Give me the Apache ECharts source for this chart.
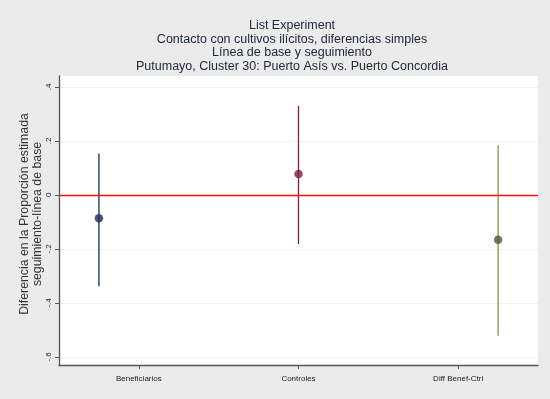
<!DOCTYPE html>
<html><head><meta charset="utf-8">
<script src="https://cdn.jsdelivr.net/npm/echarts@6/dist/echarts.min.js"></script>
<style>html,body{margin:0;padding:0;background:#ebebeb;}#c{width:550px;height:399px;}</style>
</head><body><div id="c"></div>
<script>
var categories = ['Beneficiarios', 'Controles', 'Diff Benef-Ctrl'];
var pointPos = [1, 2, 3];
var labelPos = [1.2, 2, 2.8];
var estimates = [-0.087, 0.077, -0.166];
var ciLow = [-0.338, -0.182, -0.522];
var ciHigh = [0.153, 0.329, 0.184];
var yTicks = [-0.6, -0.4, -0.2, 0, 0.2, 0.4];
var yTitle = 'Diferencia en la Proporción estimada\nseguimiento-línea de base';
var lineColors = ['#1c2f58', '#80233f', '#8a9052'];
var dotColors = ['#1a2d5a', '#7a1f3c', '#53572f'];

function stataFmt(v) {
  var r = Math.round(v * 10) / 10;
  if (r === 0) return '0';
  var s = Math.abs(r).toString().replace(/^0/, '');
  return (r < 0 ? '-' : '') + s;
}

var series = [];
categories.forEach(function (c, i) {
  series.push({
    type: 'line', name: c + ' CI', data: [[pointPos[i], ciLow[i]], [pointPos[i], ciHigh[i]]],
    symbol: 'none', lineStyle: { color: lineColors[i], width: 1.3 }, silent: true, z: 3
  });
});
series.push({
  type: 'line', name: 'zero', data: [],
  markLine: { silent: true, symbol: 'none', label: { show: false },
    lineStyle: { color: '#ff1010', width: 1.3, type: 'solid' }, data: [{ yAxis: 0 }] },
  z: 4
});
categories.forEach(function (c, i) {
  series.push({
    type: 'scatter', name: c, data: [[pointPos[i], estimates[i]]],
    symbol: 'circle', symbolSize: 8.5, itemStyle: { color: dotColors[i] }, z: 5
  });
});

var chart = echarts.init(document.getElementById('c'), null, { renderer: 'canvas' });
chart.setOption({
  backgroundColor: '#ebebeb',
  animation: false,
  title: {
    text: 'List Experiment\nContacto con cultivos ilícitos, diferencias simples\nLínea de base y seguimiento\nPutumayo, Cluster 30: Puerto Asís vs. Puerto Concordia',
    left: 287, top: 14, textAlign: 'center',
    textStyle: { fontFamily: 'Liberation Sans, Arial', fontSize: 12.5, fontWeight: 'normal', color: '#222a38', lineHeight: 13.5 }
  },
  graphic: [{
    type: 'text', x: 31, y: 214, rotation: Math.PI / 2, silent: true,
    style: { text: yTitle, align: 'center', verticalAlign: 'middle', fill: '#333',
      font: '12.3px "Liberation Sans", Arial', lineHeight: 13 }
  }],
  grid: { left: 59, right: 12, top: 76, bottom: 34, show: true, backgroundColor: '#ffffff', borderWidth: 0, outerBoundsMode: 'none' },
  xAxis: {
    type: 'value', min: 0.8, max: 3.2,
    axisLine: { show: true, onZero: false, lineStyle: { color: '#555', width: 1.3 } },
    axisTick: { show: true, customValues: labelPos, length: 4, lineStyle: { color: '#555' } },
    axisLabel: { customValues: labelPos, margin: 10, fontFamily: 'Liberation Sans, Arial', fontSize: 8, color: '#222',
      formatter: function (v) { var k = labelPos.findIndex(function (p) { return Math.abs(p - v) < 1e-6; }); return k >= 0 ? categories[k] : ''; } },
    splitLine: { show: false }
  },
  yAxis: {
    type: 'value', min: -0.63, max: 0.44,
    axisLine: { show: true, lineStyle: { color: '#555', width: 1.3 } },
    axisTick: { show: true, customValues: yTicks, length: 4, lineStyle: { color: '#555' } },
    axisLabel: { customValues: yTicks, rotate: 90, margin: 6, fontFamily: 'Liberation Sans, Arial', fontSize: 8, color: '#222',
      formatter: function (v) { return stataFmt(v); } },
    splitLine: { show: true, lineStyle: { color: '#f2f2f2', width: 1 } }
  },
  series: series
});
</script></body></html>
